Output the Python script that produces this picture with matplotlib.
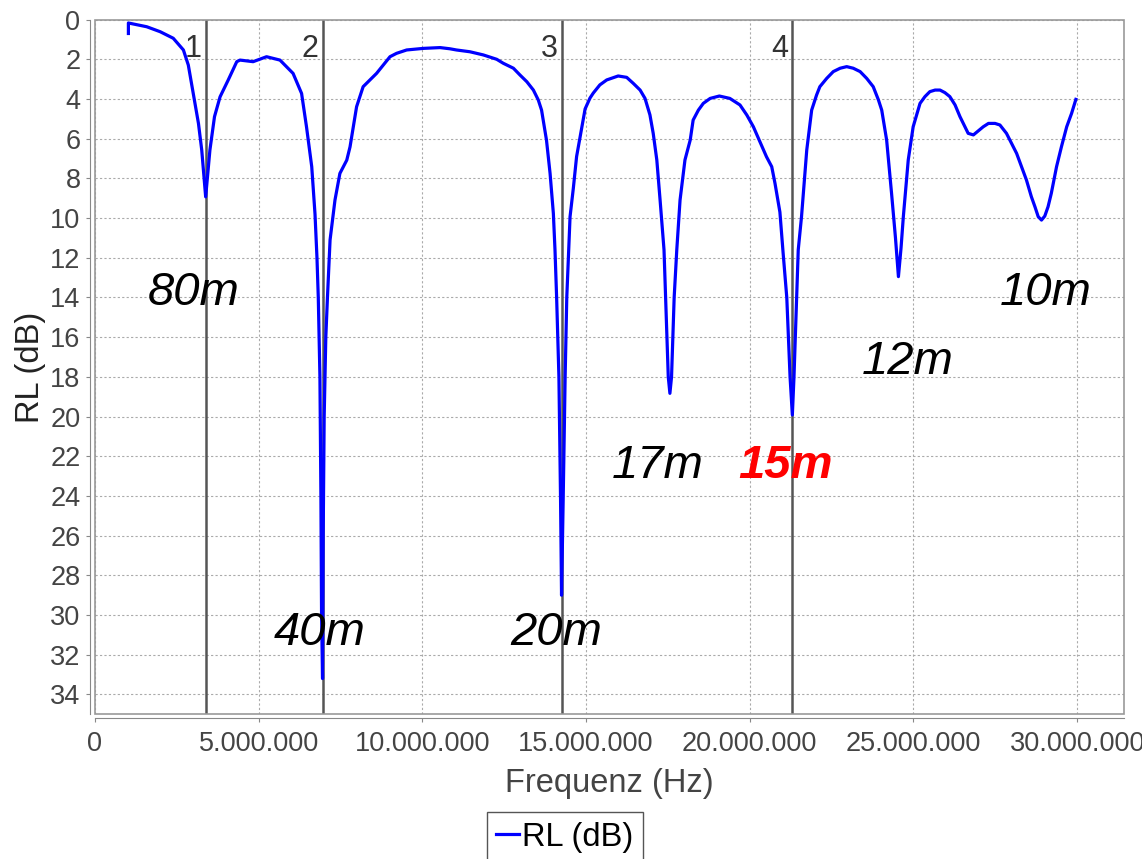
import numpy as np
import matplotlib
matplotlib.use('Agg')
import matplotlib.pyplot as plt
from matplotlib.ticker import MultipleLocator, FuncFormatter
from matplotlib.patches import Rectangle

plt.rcParams['font.family'] = ['Liberation Sans', 'DejaVu Sans']

# return loss sweep (MHz, dB)
freq_mhz = [1.02, 1.02, 1.58, 1.99, 2.39, 2.70, 2.85, 3.00, 3.16, 3.26, 3.38,
            3.51, 3.65, 3.82, 4.07, 4.33, 4.43, 4.83, 5.24, 5.65, 6.05, 6.31,
            6.46, 6.62, 6.72, 6.78, 6.82, 6.87, 6.90, 6.92, 6.95, 6.97, 7.00,
            7.05, 7.10, 7.18, 7.33, 7.48, 7.69, 7.79, 7.89, 7.99, 8.19, 8.60,
            9.01, 9.21, 9.52, 10.03, 10.54, 10.84, 11.04, 11.45, 11.86, 12.27,
            12.47, 12.78, 12.98, 13.19, 13.39, 13.54, 13.64, 13.79, 13.90, 14.00,
            14.05, 14.10, 14.17, 14.22, 14.25, 14.30, 14.36, 14.41, 14.51, 14.61,
            14.71, 14.97, 15.12, 15.22, 15.42, 15.63, 15.98, 16.24, 16.44, 16.65,
            16.80, 16.95, 17.05, 17.16, 17.26, 17.38, 17.43, 17.51, 17.56, 17.61,
            17.69, 17.77, 17.87, 18.02, 18.18, 18.27, 18.43, 18.58, 18.79, 19.07,
            19.39, 19.70, 19.91, 20.11, 20.31, 20.51, 20.67, 20.77, 20.92, 21.02,
            21.13, 21.23, 21.30, 21.35, 21.43, 21.48, 21.58, 21.74, 21.89, 22.04,
            22.14, 22.35, 22.55, 22.76, 22.96, 23.16, 23.37, 23.57, 23.77, 23.93,
            24.03, 24.18, 24.33, 24.45, 24.54, 24.62, 24.69, 24.84, 24.99, 25.20,
            25.35, 25.50, 25.66, 25.81, 25.96, 26.11, 26.27, 26.42, 26.67, 26.83,
            27.13, 27.29, 27.49, 27.64, 27.84, 28.15, 28.30, 28.45, 28.60, 28.71,
            28.81, 28.91, 29.01, 29.11, 29.21, 29.37, 29.52, 29.68, 29.83, 29.96]
rl_db = [0.70, 0.17, 0.36, 0.61, 0.94, 1.53, 2.29, 3.72, 5.23, 6.57, 8.93,
         6.57, 4.89, 3.89, 3.04, 2.12, 2.04, 2.12, 1.87, 2.04, 2.71, 3.72,
         5.40, 7.41, 9.8, 12.0, 14.0, 18.0, 24.0, 30.0, 33.2, 26.0, 20.0,
         16.0, 14.0, 11.1, 9.09, 7.75, 7.08, 6.41, 5.40, 4.39, 3.38, 2.71,
         1.87, 1.70, 1.53, 1.45, 1.41, 1.47, 1.53, 1.62, 1.78, 2.00,
         2.20, 2.45, 2.79, 3.13, 3.55, 4.05, 4.56, 6.07, 7.75, 9.76,
         11.6, 14.0, 18.0, 24.2, 29.0, 24.2, 18.0, 14.0, 9.93, 8.5,
         6.9, 4.5, 3.95, 3.70, 3.29, 3.04, 2.84, 2.91, 3.21, 3.55,
         3.97, 4.8, 5.73, 7.07, 9.09, 11.6, 14.0, 18.0, 18.83, 18.0,
         14.0, 11.6, 9.09, 7.07, 6.07, 5.06, 4.56, 4.22, 3.97, 3.85,
         3.97, 4.30, 4.81, 5.40, 6.15, 6.91, 7.41, 8.25, 9.7, 11.8,
         14.0, 18.0, 19.92, 18.0, 14.0, 11.6, 9.93, 6.57, 4.56, 3.80,
         3.38, 2.96, 2.62, 2.45, 2.37, 2.45, 2.62, 2.96, 3.38, 4.05,
         4.56, 6.07, 8.75, 11.0, 12.95, 11.5, 9.93, 7.07, 5.40, 4.22,
         3.88, 3.63, 3.55, 3.55, 3.68, 3.88, 4.30, 4.89, 5.73, 5.81,
         5.40, 5.23, 5.23, 5.31, 5.73, 6.74, 7.41, 8.08, 8.92, 9.43,
         9.93, 10.10, 9.9, 9.43, 8.75, 7.41, 6.40, 5.40, 4.72, 4.02]

# markers 1..4
marker_mhz = [3.38, 6.95, 14.27, 21.30]
marker_names = ['1', '2', '3', '4']

# band annotations: label, MHz, dB (baseline)
band_labels = ['80m', '40m', '20m', '17m', '15m', '12m', '10m']
band_x = [3.01, 6.87, 14.10, 17.19, 21.10, 24.83, 29.03]
band_y = [14.37, 31.5, 31.5, 23.1, 23.1, 17.85, 14.37]

freq_hz = np.array(freq_mhz) * 1e6

fig = plt.figure(figsize=(11.42, 8.59), dpi=100)
ax = fig.add_axes([95 / 1142, 1 - 714.3 / 859, 1029 / 1142, 694.7 / 859])

ax.plot(freq_hz, rl_db, color='#0000ff', lw=2.3, label='RL (dB)', zorder=4,
        solid_joinstyle='round')

for m, name in zip(marker_mhz, marker_names):
    ax.axvline(m * 1e6, color='#555555', lw=1.8, zorder=3)
    ax.annotate(name, xy=(m * 1e6, 1.9), xytext=(-3, 0), textcoords='offset points',
                ha='right', va='baseline', fontsize=22, color='#333333')

for lab, bx, by in zip(band_labels, band_x, band_y):
    if lab == '15m':
        ax.text(bx * 1e6, by, lab, ha='center', va='baseline', fontsize=34,
                style='italic', weight='bold', color='#ff0000', zorder=5)
    else:
        ax.text(bx * 1e6, by, lab, ha='center', va='baseline', fontsize=34,
                style='italic', color='black', zorder=5)

ax.set_xlim(0, 31.43e6)
ax.set_ylim(35, 0)
ax.xaxis.set_major_locator(MultipleLocator(5e6))
ax.yaxis.set_major_locator(MultipleLocator(2))
ax.xaxis.set_major_formatter(FuncFormatter(lambda v, p: f"{int(round(v)):,}".replace(',', '.')))
ax.grid(True, color='#aaaaaa', lw=0.8, linestyle=(0, (2, 2)))

# JFreeChart-ish: frame plus detached axis lines
for s in ['top', 'right']:
    ax.spines[s].set_visible(False)
ax.spines['left'].set_position(('outward', 3.5))
ax.spines['bottom'].set_position(('outward', 3))
ax.spines['left'].set_color('#888888')
ax.spines['bottom'].set_color('#888888')
ax.add_patch(Rectangle((0, 0), 1, 1, transform=ax.transAxes, fill=False,
                       edgecolor='#999999', lw=1.2, clip_on=False, zorder=6))
ax.tick_params(axis='both', labelsize=19.5, labelcolor='#444444', color='#888888',
               length=3, width=0.8)
ax.tick_params(axis='x', pad=6)
ax.tick_params(axis='y', pad=4)

ax.set_xlabel('Frequenz (Hz)', fontsize=23.5, color='#444444', labelpad=8)
ax.set_ylabel('RL (dB)', fontsize=23.5, color='#222222', labelpad=3)

fig.legend(loc='upper center', bbox_to_anchor=(565 / 1142, 1 - 812 / 859),
           fontsize=23.5, handlelength=0.7, handletextpad=0.1, fancybox=False,
           edgecolor='#555555', framealpha=1, borderpad=0.3, borderaxespad=0)

fig.savefig('out.png', dpi=100)
